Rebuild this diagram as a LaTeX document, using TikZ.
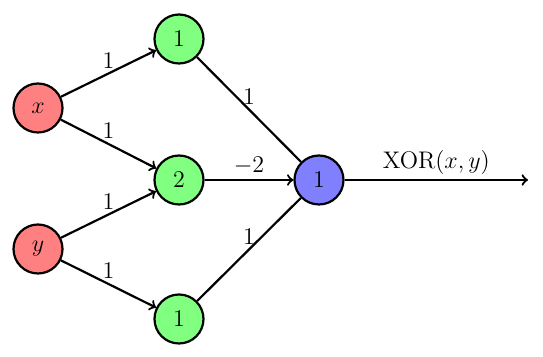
\documentclass[tikz,border=0pt]{standalone}
\begin{document}
\begin{tikzpicture}[x=0.5pt,y=-0.5pt,font=\large,
  neuron/.style={circle,draw,line width=1.1pt,minimum size=24.5pt,inner sep=0pt},
  inp/.style={neuron,fill=red!50},
  hid/.style={neuron,fill=green!50},
  outp/.style={neuron,fill=blue!50},
  conn/.style={->,line width=1.1pt},
  plain/.style={line width=1.1pt},
  wt/.style={above,inner sep=2pt}]
\useasboundingbox (0,0) rectangle (543,357);
\node[inp] (x) at (38,108) {$x$};
\node[inp] (y) at (38,249) {$y$};
\node[hid] (h1) at (179,39) {$1$};
\node[hid] (h2) at (179,180) {$2$};
\node[hid] (h3) at (179,319) {$1$};
\node[outp] (o) at (319,180) {$1$};
\coordinate (end) at (528,180);
\draw[conn] (x) -- node[wt] {$1$} (h1);
\draw[conn] (x) -- node[wt] {$1$} (h2);
\draw[conn] (y) -- node[wt] {$1$} (h2);
\draw[conn] (y) -- node[wt] {$1$} (h3);
\draw[plain] (h1) -- node[wt] {$1$} (o);
\draw[conn] (h2) -- node[wt] {$-2$} (o);
\draw[plain] (h3) -- node[wt] {$1$} (o);
\draw[conn] (o) -- node[wt] {$\mathrm{XOR}(x,y)$} (end);
\end{tikzpicture}
\end{document}
